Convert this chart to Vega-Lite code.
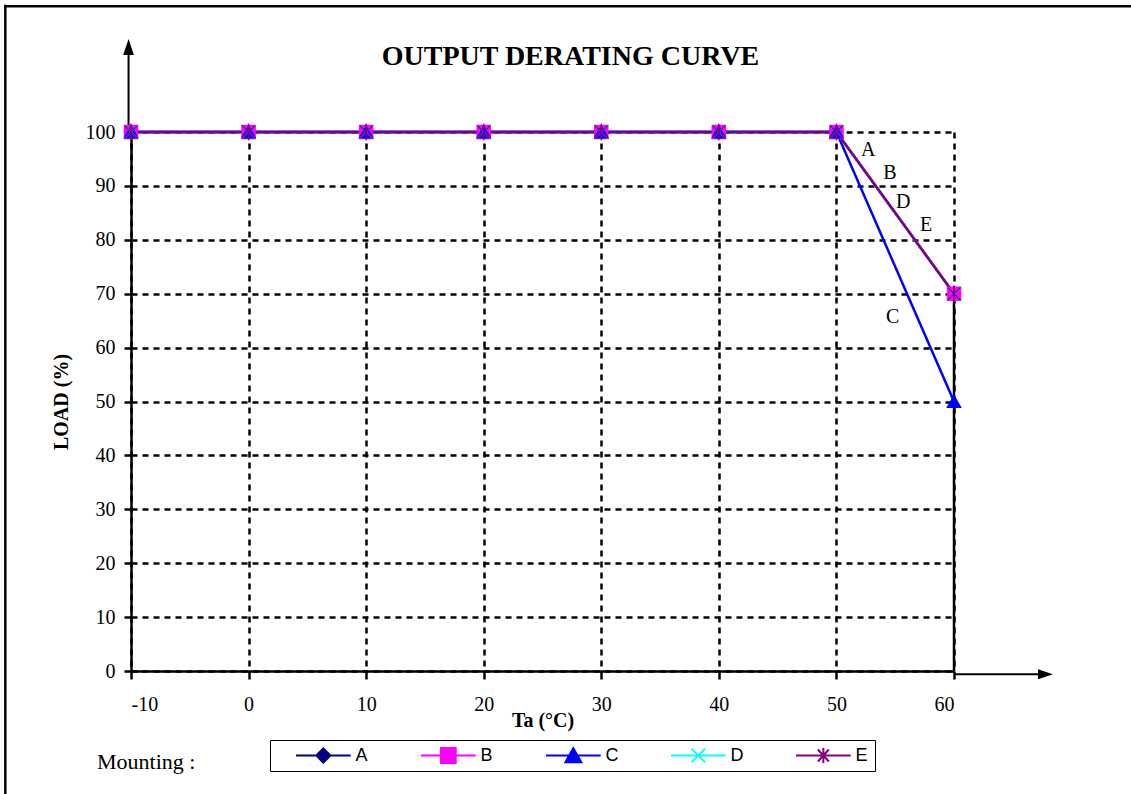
{
  "$schema": "https://vega.github.io/schema/vega-lite/v6.json",
  "width": 823,
  "height": 539,
  "autosize": {"type": "none"},
  "padding": {"left": 131, "top": 132, "right": 177, "bottom": 123},
  "background": "white",
  "title": {
    "text": "OUTPUT  DERATING  CURVE",
    "font": "Liberation Serif",
    "fontSize": 28,
    "fontWeight": "bold",
    "color": "black",
    "anchor": "middle",
    "frame": "group",
    "baseline": "alphabetic",
    "dx": 28,
    "offset": -89
  },
  "datasets": {
    "curves": [
      {"series": "A", "t": -10, "load": 100}, {"series": "A", "t": 0, "load": 100}, {"series": "A", "t": 10, "load": 100}, {"series": "A", "t": 20, "load": 100}, {"series": "A", "t": 30, "load": 100}, {"series": "A", "t": 40, "load": 100}, {"series": "A", "t": 50, "load": 100}, {"series": "A", "t": 60, "load": 70},
      {"series": "B", "t": -10, "load": 100}, {"series": "B", "t": 0, "load": 100}, {"series": "B", "t": 10, "load": 100}, {"series": "B", "t": 20, "load": 100}, {"series": "B", "t": 30, "load": 100}, {"series": "B", "t": 40, "load": 100}, {"series": "B", "t": 50, "load": 100}, {"series": "B", "t": 60, "load": 70},
      {"series": "C", "t": -10, "load": 100}, {"series": "C", "t": 0, "load": 100}, {"series": "C", "t": 10, "load": 100}, {"series": "C", "t": 20, "load": 100}, {"series": "C", "t": 30, "load": 100}, {"series": "C", "t": 40, "load": 100}, {"series": "C", "t": 50, "load": 100}, {"series": "C", "t": 60, "load": 50},
      {"series": "D", "t": -10, "load": 100}, {"series": "D", "t": 0, "load": 100}, {"series": "D", "t": 10, "load": 100}, {"series": "D", "t": 20, "load": 100}, {"series": "D", "t": 30, "load": 100}, {"series": "D", "t": 40, "load": 100}, {"series": "D", "t": 50, "load": 100}, {"series": "D", "t": 60, "load": 70},
      {"series": "E", "t": -10, "load": 100}, {"series": "E", "t": 0, "load": 100}, {"series": "E", "t": 10, "load": 100}, {"series": "E", "t": 20, "load": 100}, {"series": "E", "t": 30, "load": 100}, {"series": "E", "t": 40, "load": 100}, {"series": "E", "t": 50, "load": 100}, {"series": "E", "t": 60, "load": 70}
    ],
    "tags": [
      {"label": "A", "t": 52.71, "load": 96.66},
      {"label": "B", "t": 54.56, "load": 92.34},
      {"label": "D", "t": 55.69, "load": 86.96},
      {"label": "E", "t": 57.62, "load": 82.75},
      {"label": "C", "t": 54.79, "load": 65.73}
    ]
  },
  "resolve": {"scale": {"fill": "independent", "stroke": "independent", "shape": "independent"}},
  "layer": [
    {
      "data": {"values": [{}]},
      "mark": {"type": "rule", "color": "black", "strokeWidth": 2.5},
      "encoding": {
        "x": {"datum": -20.8, "type": "quantitative", "scale": {"domain": [-10, 60], "nice": false, "zero": false},
          "axis": {
            "values": [-10, 0, 10, 20, 30, 40, 50, 60],
            "labelExpr": "'' + datum.value",
            "title": "Ta (°C)",
            "titleFont": "Liberation Serif", "titleFontSize": 20, "titleFontWeight": "bold", "titleColor": "black",
            "titleBaseline": "alphabetic", "titleY": 55,
            "labelFont": "Liberation Serif", "labelFontSize": 20, "labelColor": "black", "labelPadding": 15,
            "tickColor": "black", "tickWidth": 2.5, "tickSize": 8,
            "domainColor": "black", "domainWidth": 2.5,
            "grid": true, "gridColor": "black", "gridDash": [6, 5], "gridWidth": 2.5, "gridOpacity": 1
          }},
        "x2": {"datum": 75.5},
        "y": {"datum": 123.34, "type": "quantitative", "scale": {"domain": [0, 100], "nice": false},
          "axis": {
            "values": [0, 10, 20, 30, 40, 50, 60, 70, 80, 90, 100],
            "title": "LOAD (%)",
            "titleFont": "Liberation Serif", "titleFontSize": 20, "titleFontWeight": "bold", "titleColor": "black",
            "titleX": -70, "titleBaseline": "middle",
            "labelFont": "Liberation Serif", "labelFontSize": 20, "labelColor": "black", "labelPadding": 9,
            "tickColor": "black", "tickWidth": 2.5, "tickSize": 7,
            "domainColor": "black", "domainWidth": 2.5,
            "grid": true, "gridColor": "black", "gridDash": [6, 5], "gridWidth": 2.5, "gridOpacity": 1
          }}
      }
    },
    {
      "data": {"values": [{}]},
      "mark": {"type": "rule", "color": "black", "strokeWidth": 2.5},
      "encoding": {
        "x": {"datum": -20.69, "type": "quantitative"},
        "y": {"datum": 123.6, "type": "quantitative"},
        "y2": {"datum": -24}
      }
    },
    {
      "data": {"values": [{}]},
      "mark": {"type": "rule", "color": "black", "strokeWidth": 2},
      "encoding": {
        "x": {"datum": -10.21, "type": "quantitative"},
        "y": {"datum": 100, "type": "quantitative"},
        "y2": {"datum": 114.5}
      }
    },
    {
      "data": {"values": [{}]},
      "mark": {"type": "point", "shape": "M0,-1L0.67,1L-0.67,1Z", "size": 256, "filled": true, "color": "black", "opacity": 1},
      "encoding": {
        "x": {"datum": -10.21, "type": "quantitative"},
        "y": {"datum": 115.77, "type": "quantitative"}
      }
    },
    {
      "data": {"values": [{}]},
      "mark": {"type": "rule", "color": "black", "strokeWidth": 2},
      "encoding": {
        "x": {"datum": 60, "type": "quantitative"},
        "x2": {"datum": 67.2},
        "y": {"datum": -0.6, "type": "quantitative"}
      }
    },
    {
      "data": {"values": [{}]},
      "mark": {"type": "point", "shape": "M1,0L-1,0.67L-1,-0.67Z", "size": 225, "filled": true, "color": "black", "opacity": 1},
      "encoding": {
        "x": {"datum": 67.78, "type": "quantitative"},
        "y": {"datum": -0.6, "type": "quantitative"}
      }
    },
    {
      "data": {"values": [{}]},
      "mark": {"type": "rule", "color": "black", "strokeWidth": 2.5},
      "encoding": {
        "x": {"datum": 60, "type": "quantitative"},
        "y": {"datum": 0, "type": "quantitative"},
        "y2": {"datum": 70}
      }
    },
    {
      "data": {"name": "curves"},
      "mark": {"type": "line", "strokeWidth": 2.5},
      "encoding": {
        "x": {"field": "t", "type": "quantitative"},
        "y": {"field": "load", "type": "quantitative"},
        "color": {"field": "series", "type": "nominal", "legend": null,
          "scale": {"domain": ["A", "B", "C", "D", "E"], "range": ["#000080", "#FF00FF", "#0000FF", "#00FFFF", "#800080"]}}
      }
    },
    {
      "data": {"name": "curves"},
      "mark": {"type": "point", "filled": true, "size": 170, "strokeWidth": 1.5, "opacity": 1},
      "encoding": {
        "x": {"field": "t", "type": "quantitative"},
        "y": {"field": "load", "type": "quantitative"},
        "fill": {"field": "series", "type": "nominal", "legend": null,
          "scale": {"domain": ["A", "B", "C", "D", "E"], "range": ["#000080", "#FF00FF", "#0000FF", "#00FFFF", "#800080"]}},
        "stroke": {"field": "series", "type": "nominal", "legend": null,
          "scale": {"domain": ["A", "B", "C", "D", "E"], "range": ["#000080", "#FF00FF", "#0000FF", "#00FFFF", "#800080"]}},
        "shape": {"field": "series", "type": "nominal", "legend": null,
          "scale": {"domain": ["A", "B", "C", "D", "E"], "range": ["diamond", "square", "triangle-up", "M-1,-1L1,1M-1,1L1,-1", "M-1,-1L1,1M-1,1L1,-1M0,-1.25L0,1.25"]}}
      }
    },
    {
      "data": {"name": "tags"},
      "mark": {"type": "text", "font": "Liberation Serif", "fontSize": 20, "color": "black", "align": "center", "baseline": "middle"},
      "encoding": {
        "x": {"field": "t", "type": "quantitative"},
        "y": {"field": "load", "type": "quantitative"},
        "text": {"field": "label", "type": "nominal"}
      }
    },
    {
      "data": {"values": [{"note": "Mounting :"}]},
      "mark": {"type": "text", "font": "Liberation Serif", "fontSize": 22, "color": "black", "align": "left", "baseline": "alphabetic"},
      "encoding": {
        "x": {"datum": -12.89, "type": "quantitative"},
        "y": {"datum": -18.18, "type": "quantitative"},
        "text": {"field": "note", "type": "nominal"}
      }
    },
    {
      "data": {"values": []},
      "mark": {"type": "point", "filled": true, "opacity": 1, "size": 2990, "strokeWidth": 2},
      "encoding": {
        "fill": {"field": "series", "type": "nominal", "title": null,
          "scale": {"domain": ["A", "B", "C", "D", "E"], "range": ["#000080", "#FF00FF", "#0000FF", "#00FFFF", "#800080"]}},
        "stroke": {"field": "series", "type": "nominal", "title": null,
          "scale": {"domain": ["A", "B", "C", "D", "E"], "range": ["#000080", "#FF00FF", "#0000FF", "#00FFFF", "#800080"]}},
        "shape": {"field": "series", "type": "nominal", "title": null,
          "scale": {"domain": ["A", "B", "C", "D", "E"], "range": [
            "M-1,0L1,0M0,-0.26L0.26,0L0,0.26L-0.26,0Z",
            "M-1,0L1,0M-0.27,-0.27L0.27,-0.27L0.27,0.27L-0.27,0.27Z",
            "M-1,0L1,0M0,-0.27L0.29,0.25L-0.29,0.25Z",
            "M-1,0L1,0M-0.25,-0.25L0.25,0.25M-0.25,0.25L0.25,-0.25",
            "M-1,0L1,0M-0.2,-0.22L0.2,0.22M-0.2,0.22L0.2,-0.22M0,-0.27L0,0.27"
          ]}}
      }
    }
  ],
  "config": {
    "view": {"stroke": null},
    "legend": {
      "orient": "none",
      "legendX": 139,
      "legendY": 608,
      "direction": "horizontal",
      "columns": 5,
      "strokeColor": "black",
      "padding": 6.5,
      "symbolSize": 2990,
      "symbolStrokeWidth": 2,
      "symbolOpacity": 1,
      "symbolOffset": 18.35,
      "labelOffset": 3.7,
      "labelFont": "Liberation Sans",
      "labelFontSize": 18,
      "labelColor": "black",
      "columnPadding": 32,
      "gridAlign": "all",
      "clipHeight": 18
    }
  }
}
